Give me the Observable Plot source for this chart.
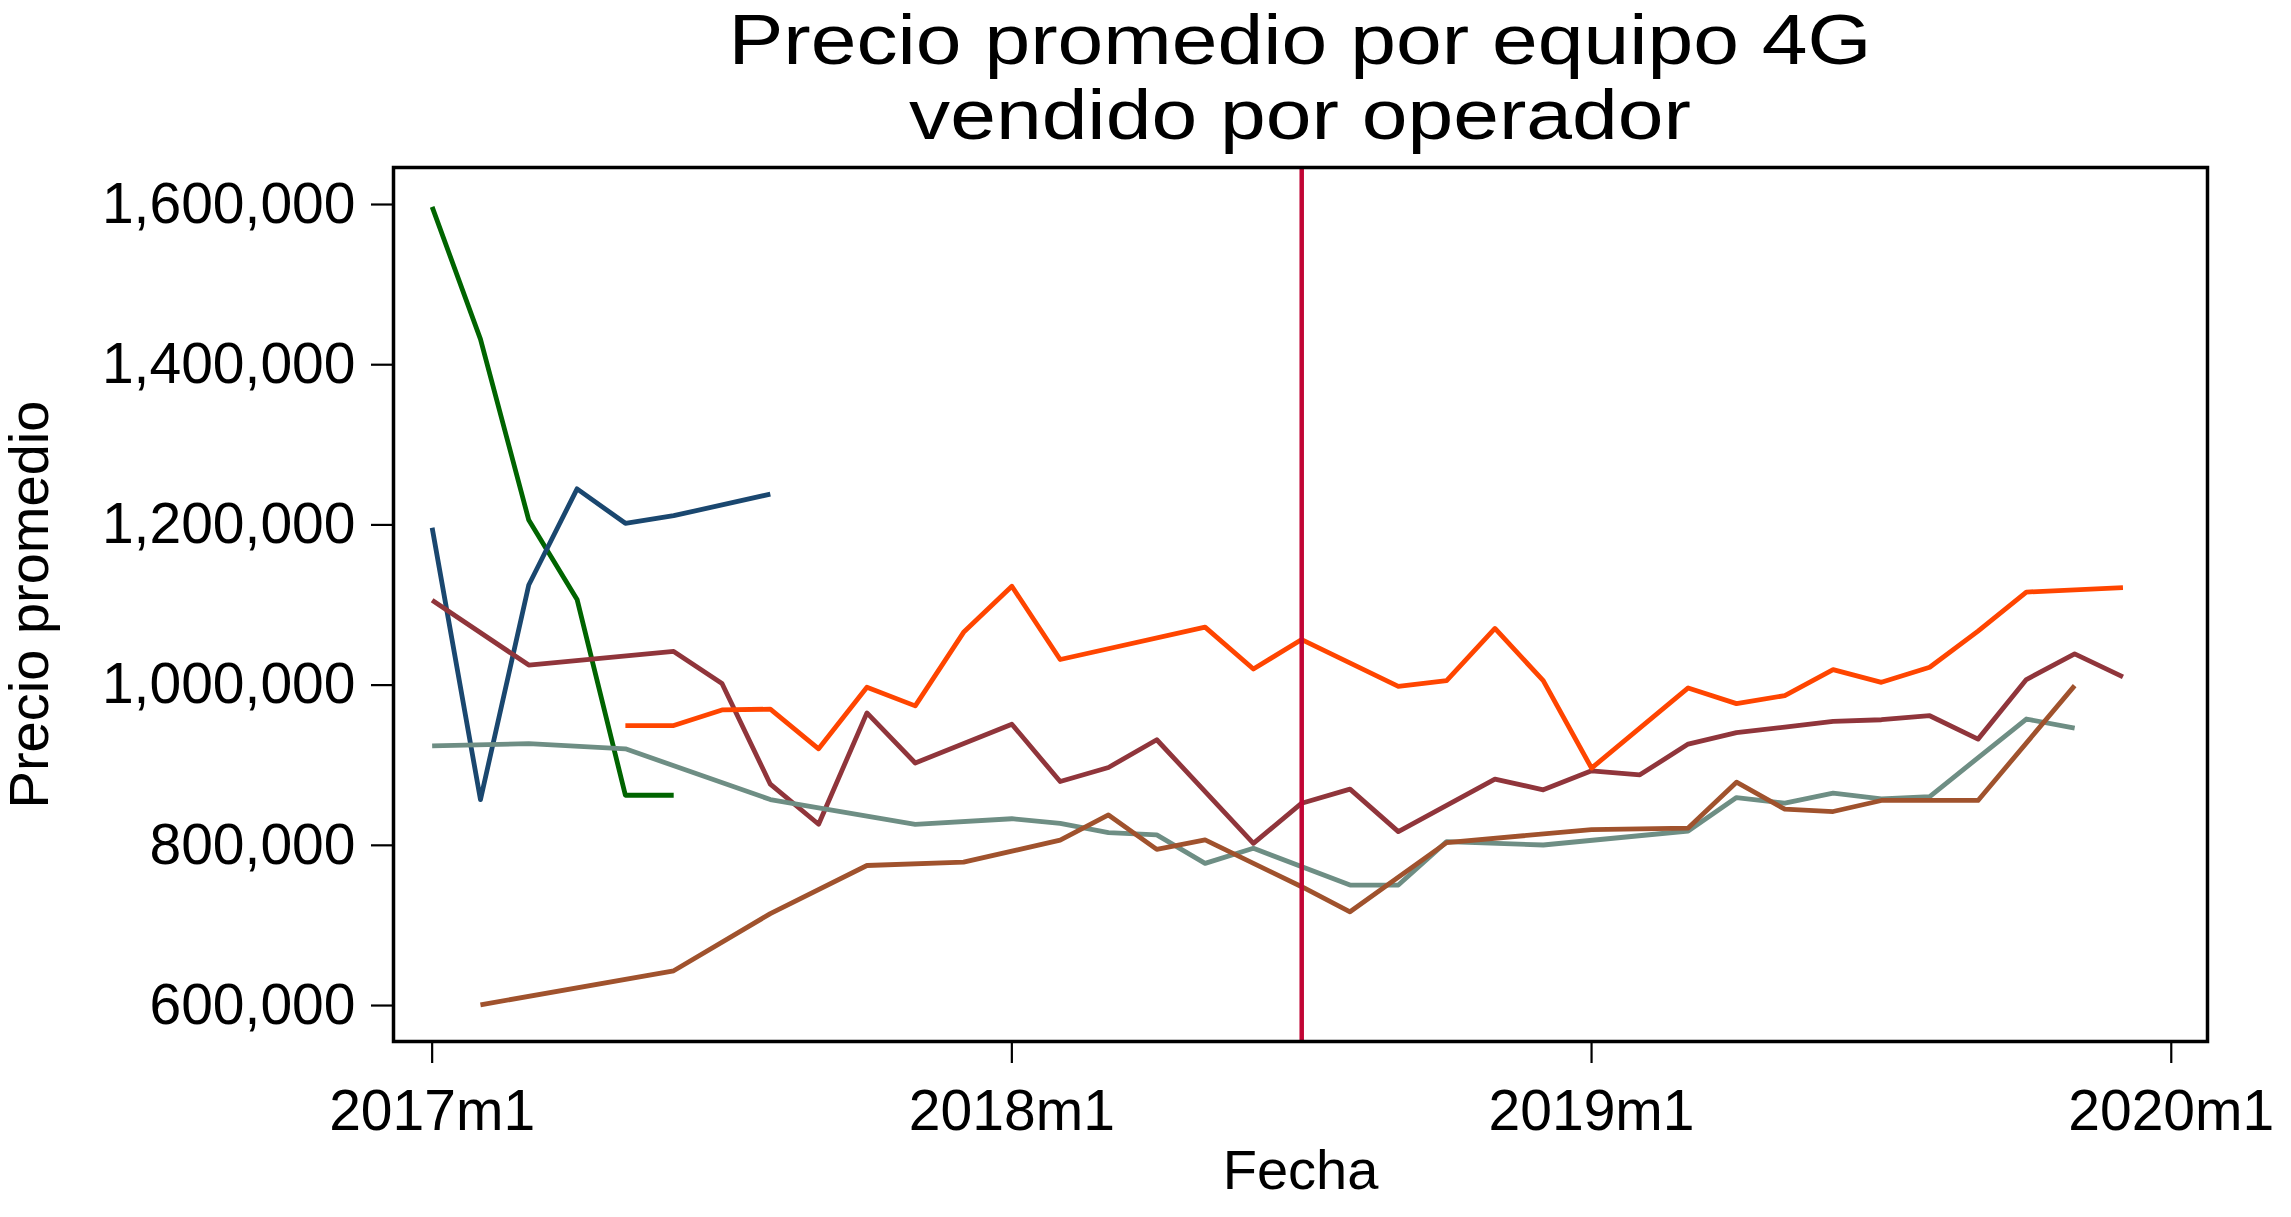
<!DOCTYPE html>
<html>
<head>
<meta charset="utf-8">
<script src="https://cdn.jsdelivr.net/npm/d3@7"></script>
<script src="https://cdn.jsdelivr.net/npm/@observablehq/plot@0.6"></script>
<style>
  html, body { margin: 0; padding: 0; background: #fff; overflow: hidden; }
  #wrap { position: relative; width: 2291px; height: 1217px; }
  .title {
    position: absolute; left: 393px; width: 1814px; text-align: center;
    font-family: "Liberation Sans", Arial, Helvetica, sans-serif;
    font-size: 70px; line-height: 70px; color: #000; white-space: nowrap;
    transform: scaleX(1.175); transform-origin: 50% 50%;
  }
</style>
</head>
<body>
<div id="wrap">
  <div class="title" style="top:4.5px">Precio promedio por equipo 4G</div>
  <div class="title" style="top:80px">vendido por operador</div>
</div>
<script>
// ---- Data ----
const xTickLabels = ["2017m1", "2018m1", "2019m1", "2020m1"];
const yTicks = [600000, 800000, 1000000, 1200000, 1400000, 1600000];
const eventMonth = "2018m7";

const greenMonths = ["2017m1","2017m2","2017m3","2017m4","2017m5","2017m6"];
const greenValues = [1597000, 1432000, 1206000, 1107000, 862500, 862500];

const navyMonths = ["2017m1","2017m2","2017m3","2017m4","2017m5","2017m6","2017m8"];
const navyValues = [1196500, 857000, 1125000, 1245000, 1202000, 1211500, 1238500];

const maroonMonths = ["2017m1","2017m3","2017m6","2017m7","2017m8","2017m9","2017m10","2017m11",
  "2018m1","2018m2","2018m3","2018m4","2018m6","2018m7","2018m8","2018m9","2018m11","2018m12",
  "2019m1","2019m2","2019m3","2019m4","2019m5","2019m6","2019m7","2019m8","2019m9","2019m10","2019m11","2019m12"];
const maroonValues = [1106000, 1025000, 1042000, 1002000, 876300, 826300, 965300, 902800,
  951200, 879600, 897200, 931800, 802500, 852600, 870100, 817100, 882600, 869300,
  893000, 888000, 926400, 940600, 947700, 954700, 956800, 961800, 932600, 1006900, 1039000, 1010200];

const orangeMonths = ["2017m5","2017m6","2017m7","2017m8","2017m9","2017m10","2017m11","2017m12",
  "2018m1","2018m2","2018m5","2018m6","2018m7","2018m9","2018m10","2018m11","2018m12",
  "2019m1","2019m3","2019m4","2019m5","2019m6","2019m7","2019m8","2019m9","2019m10","2019m12"];
const orangeValues = [949500, 949500, 969000, 970000, 920500, 997300, 974100, 1065900,
  1123500, 1032000, 1072400, 1020200, 1056900, 998500, 1005600, 1070700, 1005600,
  896400, 996500, 976900, 986900, 1019400, 1003500, 1022300, 1067400, 1116200, 1121600];

const tealMonths = ["2017m1","2017m3","2017m5","2017m8","2017m11","2018m1","2018m2","2018m3","2018m4",
  "2018m5","2018m6","2018m8","2018m9","2018m10","2018m12","2019m3","2019m4","2019m5","2019m6",
  "2019m7","2019m8","2019m10","2019m11"];
const tealValues = [924100, 927000, 920500, 857200, 826100, 833200, 827500, 815900, 813000,
  777500, 796300, 750400, 750400, 804600, 800400, 817900, 859600, 852600, 865100,
  858000, 860900, 957700, 946400];

const siennaMonths = ["2017m2","2017m6","2017m8","2017m10","2017m12","2018m2","2018m3","2018m4","2018m5",
  "2018m7","2018m8","2018m10","2019m1","2019m3","2019m4","2019m5","2019m6","2019m7","2019m9","2019m11"];
const siennaValues = [600800, 643400, 714700, 774800, 779000, 806500, 837900, 795000, 806700,
  748300, 717000, 803400, 819600, 821600, 878800, 845100, 842200, 856000, 856000, 999400];

// ---- helpers ----
const toIdx = s => { const [y, m] = s.split("m").map(Number); return (y - 2017) * 12 + (m - 1); };
const rows = (months, values) => months.map((mm, i) => ({ t: toIdx(mm), v: values[i] }));
const xTickValues = xTickLabels.map(toIdx);
const fmtX = t => xTickLabels[xTickValues.indexOf(t)];

const series = [
  { data: rows(greenMonths, greenValues), color: "#006400" },
  { data: rows(navyMonths, navyValues), color: "#1a476f" },
  { data: rows(maroonMonths, maroonValues), color: "#90353b" },
  { data: rows(orangeMonths, orangeValues), color: "#ff4500" },
  { data: rows(tealMonths, tealValues), color: "#6e8e84" },
  { data: rows(siennaMonths, siennaValues), color: "#a0522d" }
];

const lineMarks = series.map(s => Plot.line(s.data, {
  x: "t", y: "v", stroke: s.color, strokeWidth: 4.8,
  strokeLinejoin: "round", strokeLinecap: "butt"
}));

const chart = Plot.plot({
  width: 2291,
  height: 1217,
  marginLeft: 393,
  marginRight: 84,
  marginTop: 167,
  marginBottom: 176,
  style: { fontFamily: "'Liberation Sans', Arial, Helvetica, sans-serif", color: "#000", background: "transparent", overflow: "visible" },
  x: { type: "linear", domain: [-0.8, 36.75], label: null },
  y: { type: "linear", domain: [555100, 1646200], label: null },
  marks: [
    ...lineMarks,
    Plot.ruleX([toIdx(eventMonth)], { stroke: "#c10534", strokeWidth: 4.5 }),
    Plot.frame({ stroke: "#000", strokeWidth: 3.5 }),
    Plot.axisY(yTicks, {
      anchor: "left", tickSize: 22, tickPadding: 16, fontSize: 57,
      strokeWidth: 2.2, tickFormat: d3.format(","), label: null
    }),
    Plot.axisX(xTickValues, {
      anchor: "bottom", tickSize: 22, tickPadding: 26, fontSize: 57,
      strokeWidth: 2.2, tickFormat: fmtX, label: null
    }),
    Plot.text(["Precio promedio"], {
      frameAnchor: "left", text: d => d, rotate: -90, dx: -346,
      lineAnchor: "bottom", textAnchor: "middle", fontSize: 56, fill: "#000"
    }),
    Plot.text(["Fecha"], {
      frameAnchor: "bottom", text: d => d, dy: 147,
      lineAnchor: "bottom", textAnchor: "middle", fontSize: 56, fill: "#000"
    })
  ]
});
chart.style.position = "absolute";
chart.style.left = "0px";
chart.style.top = "0px";
document.getElementById("wrap").prepend(chart);
</script>
</body>
</html>
